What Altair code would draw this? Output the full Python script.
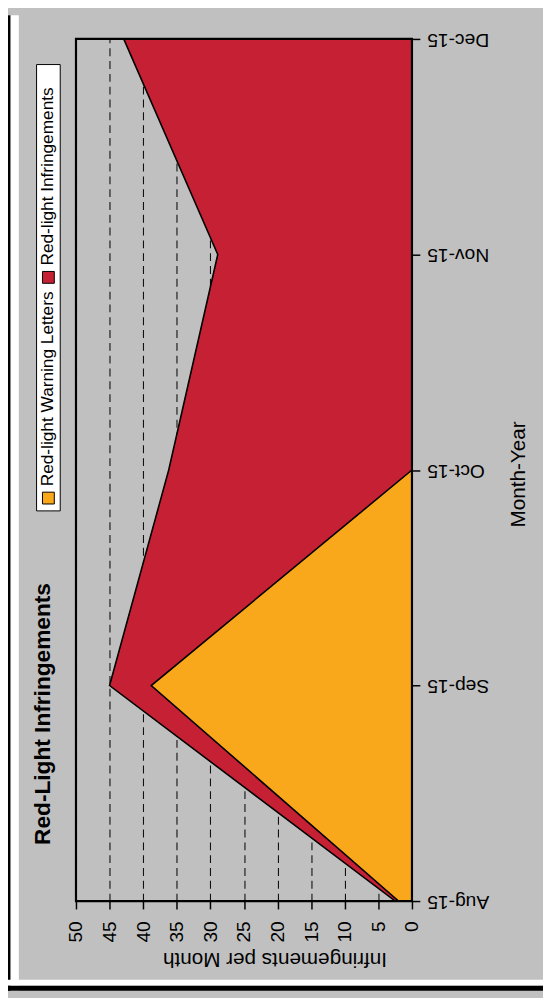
import altair as alt
import pandas as pd

# ---- data ----
months = ["Aug-15", "Sep-15", "Oct-15", "Nov-15", "Dec-15"]
infringements = [2.5, 45.0, 36.2, 28.9, 42.9]
warning_letters = [2.0, 38.8, 0.0, 0.0, 0.0]
value_ticks = [0, 5, 10, 15, 20, 25, 30, 35, 40, 45, 50]
series_names = ["Red-light Warning Letters", "Red-light Infringements"]
series_colors = ["#F9A81B", "#C62034"]

df = pd.DataFrame({
    "month": months,
    "infringements": infringements,
    "warning": warning_letters,
})
one = pd.DataFrame({"a": [0]})

FONT = "Liberation Sans"
W, H = 341, 875

x_enc_args = dict(
    scale=alt.Scale(domain=[0, 50], reverse=True, nice=False, zero=True),
    stack=None,
)
x_axis = alt.Axis(
    values=value_ticks, title=None, orient="bottom",
    labelAngle=270, labelAlign="right", labelBaseline="middle",
    labelFontSize=19.5, labelColor="black", labelPadding=12,
    tickSize=8, tickColor="black", tickWidth=1.5, domain=False,
    grid=True, gridDash=[8, 5], gridColor="#111111", gridWidth=1.1,
)
y_axis = alt.Axis(
    title=None, orient="right", labelAngle=180, labelAlign="right",
    labelBaseline="middle", labelFontSize=19.5, labelColor="black",
    labelPadding=7, tickSize=8, tickColor="black", tickWidth=1.5,
    domain=False, grid=False,
)
y_enc = alt.Y("month:O", sort=months[::-1],
              scale=alt.Scale(type="point", padding=0), axis=y_axis)

red_area = alt.Chart(df).mark_area(
    orient="horizontal", color=series_colors[1], stroke="black",
    strokeWidth=1.6, opacity=1,
).encode(
    x=alt.X("infringements:Q", axis=x_axis, **x_enc_args),
    y=y_enc,
)
orange_area = alt.Chart(df).mark_area(
    orient="horizontal", color=series_colors[0], stroke="black",
    strokeWidth=1.6, opacity=1,
).encode(
    x=alt.X("warning:Q", axis=x_axis, **x_enc_args),
    y=y_enc,
)

def rect(x, x2, y, y2, fill, stroke=None, sw=1):
    kw = dict(fill=fill)
    if stroke:
        kw.update(stroke=stroke, strokeWidth=sw)
    return alt.Chart(one).mark_rect(**kw).encode(
        x=alt.value(x), x2=alt.value(x2), y=alt.value(y), y2=alt.value(y2))

def text(t, x, y, angle, size, align="center", baseline="middle", bold=False):
    return alt.Chart(one).mark_text(
        text=t, angle=angle, align=align, baseline=baseline, fontSize=size,
        font=FONT, fontWeight="bold" if bold else "normal", color="black",
    ).encode(x=alt.value(x), y=alt.value(y))

# plot border drawn on top of the areas
border = alt.Chart(one).mark_rect(
    fillOpacity=0, stroke="black", strokeWidth=2.2,
).encode(x=alt.value(0), x2=alt.value(W), y=alt.value(0), y2=alt.value(H))

# frame pieces (page strip + border lines)
frame = [
    rect(-69, -58, -24, 966, "white"),
    rect(-69, -66.5, -24, 966, "black"),
    rect(-69, 474, 955, 961, "white"),
    rect(-69, 474, 961, 966, "black"),
]

title = text("Red-Light Infringements", -26, 818, 270, 23,
             align="left", baseline="alphabetic", bold=True)
x_title = text("Infringements per Month", 202, 928, 180, 21,
               baseline="alphabetic")
y_title = text("Month-Year", 456, 442, 270, 21, baseline="alphabetic")

# legend (rotated)
legend = [
    rect(-40, -16, 26, 479, "white", stroke="black"),
    rect(-34, -22, 460, 472, series_colors[0], stroke="black"),
    text(series_names[0], -28, 454, 270, 17.5, align="left"),
    rect(-34, -22, 236, 248, series_colors[1], stroke="black"),
    text(series_names[1], -28, 230, 270, 17.5, align="left"),
]

chart = alt.layer(
    red_area, orange_area, border, *frame, title, x_title, y_title, *legend
).properties(
    width=W, height=H,
    background="#C0C0C0",
    padding={"left": 69, "top": 24, "right": 133, "bottom": 91},
    autosize=alt.AutoSizeParams(type="none"),
).configure_view(
    fill="white", stroke="black", strokeWidth=2,
).configure(font=FONT)

chart.save("out.html", embed_options={"renderer": "svg", "actions": False})
